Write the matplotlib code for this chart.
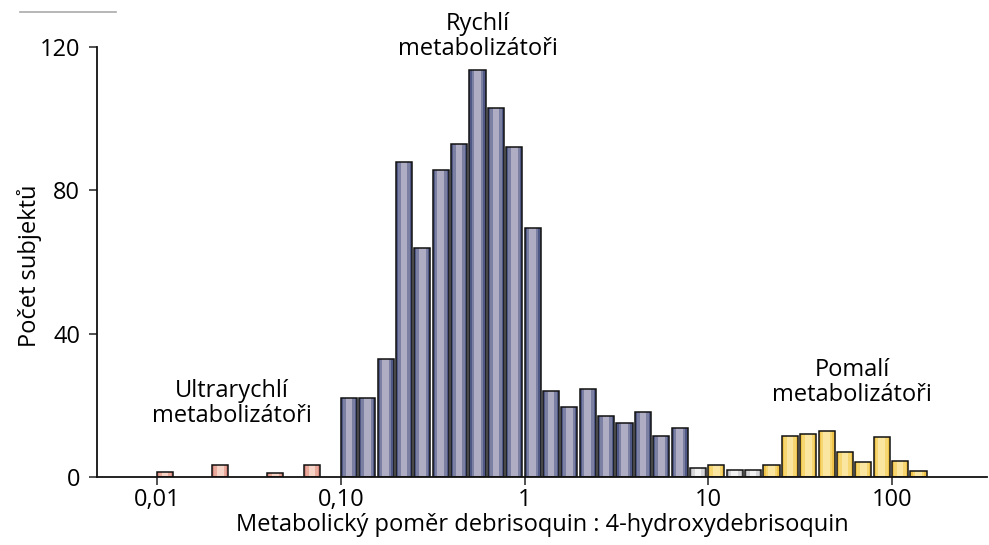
import numpy as np
import matplotlib
matplotlib.use("Agg")
import matplotlib.pyplot as plt
from matplotlib.lines import Line2D

plt.rcParams['font.family'] = ['Open Sans', 'DejaVu Sans']

# bins of 0.1 decade starting at 0.01
bin_start_exp = -2.0
bin_step = 0.1
counts = [1.4, 0, 0, 3.4, 0, 0, 1.1, 0, 3.4, 0,
          22, 22, 33, 88, 64, 85.5, 93, 113.5, 103, 92,
          69.5, 24, 19.5, 24.5, 17, 15, 18, 11.5, 13.5, 2.5,
          3.4, 2, 2, 3.4, 11.3, 12, 12.8, 7, 4.2, 11,
          4.4, 1.5]
groups = (['p'] * 10 + ['b'] * 10 + ['b'] * 9 + ['w'] +
          ['y', 'w', 'w'] + ['y'] * 7 + ['y', 'y'])

xticks = [0.01, 0.1, 1, 10, 100]
xticklabels = ['0,01', '0,10', '1', '10', '100']
yticks = [0, 40, 80, 120]

# (outer, middle, inner) shades to fake the shaded bars
shades = {
    'p': ('#d88a80', '#e9a99b', '#f5d3c6'),
    'b': ('#4f5784', '#7b80a3', '#aeadc4'),
    'w': ('#b4b4b8', '#d6d6d8', '#f2f2f2'),
    'y': ('#efc24a', '#f5d671', '#fae6a0'),
}

fig = plt.figure(figsize=(9.89, 5.45), dpi=100)
ax = fig.add_axes([0.098, 0.125, 0.900, 0.789])
ax.set_xscale('log')

fill = 0.88
for i, (c, g) in enumerate(zip(counts, groups)):
    if c <= 0:
        continue
    e0 = bin_start_exp + i * bin_step
    outer, mid, inner = shades[g]
    for lo, hi, col in [(0.0, fill, outer), (0.12, fill - 0.12, mid), (0.26, fill - 0.26, inner)]:
        left = 10 ** (e0 + lo * bin_step)
        right = 10 ** (e0 + hi * bin_step)
        ax.bar(left, c, width=right - left, align='edge', color=col, linewidth=0, zorder=2)
    left = 10 ** e0
    right = 10 ** (e0 + fill * bin_step)
    ax.bar(left, c, width=right - left, align='edge', facecolor='none',
           edgecolor='#111111', linewidth=1.1, zorder=3)

ax.set_xlim(10 ** -2.327, 10 ** 2.517)
ax.set_ylim(0, 120)
ax.set_xticks(xticks)
ax.set_xticklabels(xticklabels)
ax.xaxis.set_minor_locator(matplotlib.ticker.NullLocator())
ax.set_yticks(yticks)
ax.tick_params(axis='both', labelsize=17, length=6, width=1.1, color='#222222', pad=6)
ax.tick_params(axis='x', pad=2)

for s in ['top', 'right']:
    ax.spines[s].set_visible(False)
for s in ['left', 'bottom']:
    ax.spines[s].set_linewidth(1.3)
    ax.spines[s].set_color('#111111')

ax.set_xlabel('Metabolický poměr debrisoquin : 4-hydroxydebrisoquin', fontsize=17, labelpad=1)
ax.set_ylabel('Počet subjektů', fontsize=17)
ax.yaxis.set_label_coords(-0.062, 0.49)

ax.text(0.559, 123.0, 'Rychlí\nmetabolizátoři', ha='center', va='center',
        fontsize=17, linespacing=1.05, clip_on=False)
ax.text(0.0256, 20.5, 'Ultrarychlí\nmetabolizátoři', ha='center', va='center',
        fontsize=17, linespacing=1.05)
ax.text(60.7, 26.3, 'Pomalí\nmetabolizátoři', ha='center', va='center',
        fontsize=17, linespacing=1.05)

# faint scan line at the top left
fig.add_artist(Line2D([0.02, 0.117], [0.978, 0.978], color='#aaaaaa', linewidth=1.2))

fig.savefig('out.png', dpi=100)
